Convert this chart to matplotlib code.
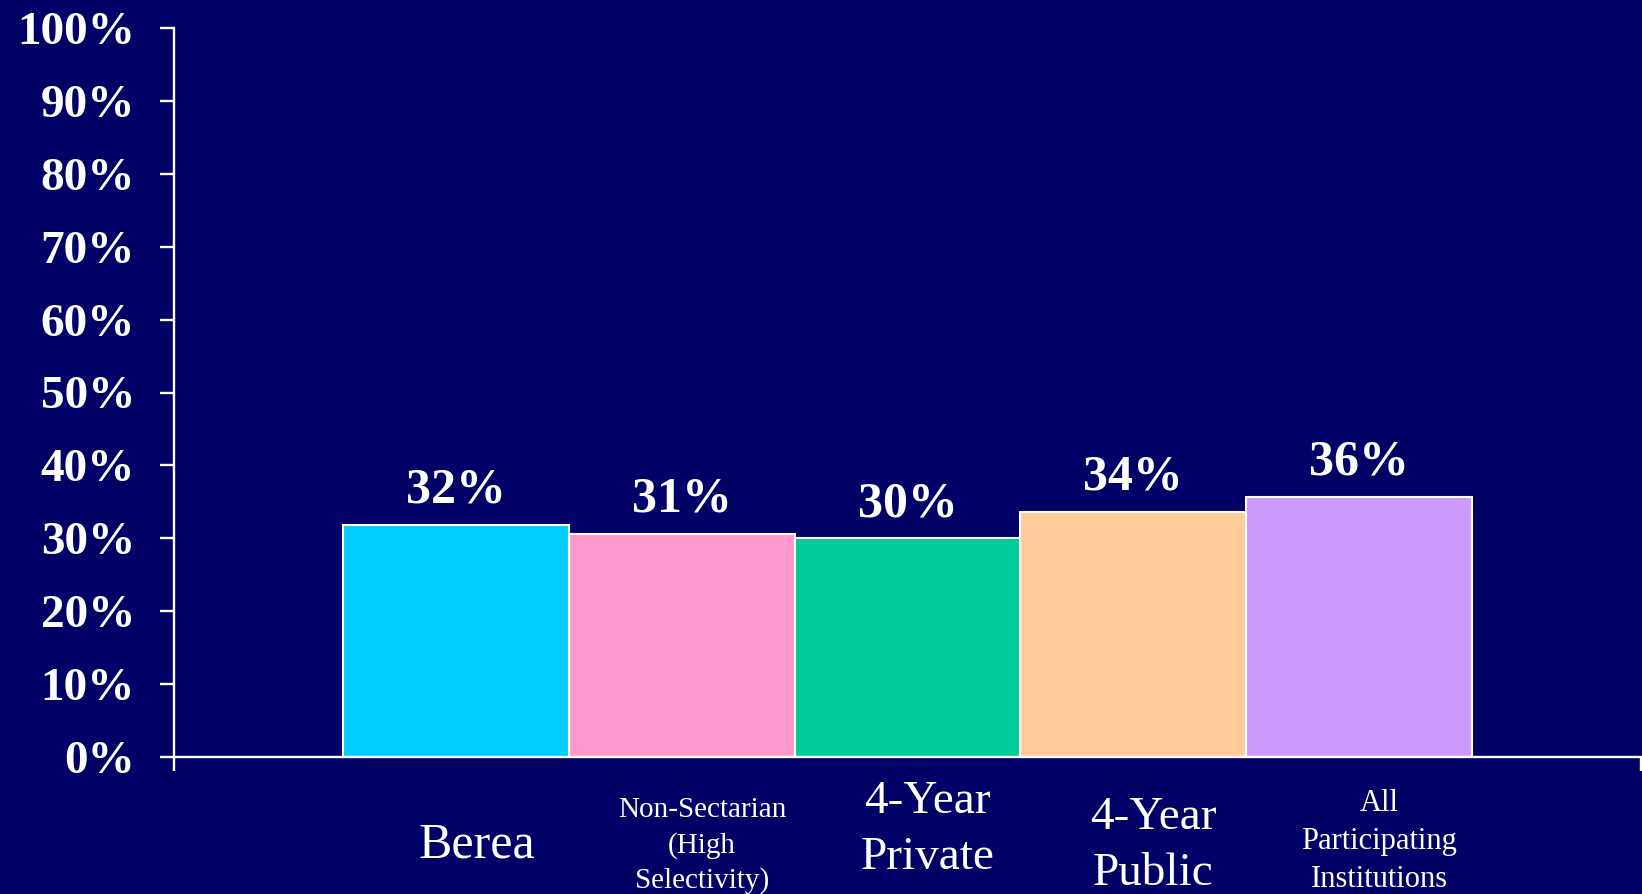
import matplotlib.pyplot as plt
import matplotlib.transforms as mtransforms

categories = ['Berea', 'Non-Sectarian\n(High\nSelectivity)', '4-Year\nPrivate',
              '4-Year\nPublic', 'All\nParticipating\nInstitutions']
values = [31.8, 30.6, 30.0, 33.6, 35.7]
value_labels = ['32%', '31%', '30%', '34%', '36%']
colors = ['#00CCFF', '#FF99CC', '#00CC99', '#FFCC99', '#CC99FF']
# label font sizes and last-line baselines (figure pixels from top), as in the slide
label_sizes = [36, 21, 34, 34, 22]
label_baselines = [857, 888, 869, 885, 887]
yticks = list(range(0, 101, 10))

bg = '#000066'
W, H = 1642, 894

fig = plt.figure(figsize=(W / 100, H / 100), dpi=100, facecolor=bg)
ax = fig.add_axes([174 / W, 1 - 757 / H, (1641 - 174) / W, (757 - 28) / H])
ax.set_facecolor(bg)

x = list(range(len(categories)))
ax.bar(x, values, width=1.0, color=colors, edgecolor='white', linewidth=1.5, zorder=2)

ax.set_xlim(-1.25, 5.25)
ax.set_ylim(0, 100)

for spine in ['top', 'right']:
    ax.spines[spine].set_visible(False)
for spine in ['left', 'bottom']:
    ax.spines[spine].set_color('white')
    ax.spines[spine].set_linewidth(1.7)
    ax.spines[spine].set_zorder(3)

ax.set_yticks(yticks)
ax.set_yticklabels([f'{t}%' for t in yticks], fontfamily='Liberation Serif',
                   fontweight='bold', fontsize=34, color='white')
ax.tick_params(axis='y', length=10, width=1.7, color='white', pad=18)
ax.set_xticks([-1.25, 5.25])
ax.set_xticklabels([])
ax.tick_params(axis='x', length=10, width=1.7, color='white')

for xi, v, lab in zip(x, values, value_labels):
    ax.annotate(lab, (xi, v), xytext=(0, 16), textcoords='offset points',
                ha='center', va='baseline', fontfamily='Liberation Serif',
                fontweight='bold', fontsize=36, color='white')

trans = mtransforms.blended_transform_factory(ax.transData, fig.transFigure)
for xi, cat, fs, yb in zip(x, categories, label_sizes, label_baselines):
    ax.text(xi + 0.09, 1 - yb / H, cat, transform=trans, ha='center', va='baseline',
            multialignment='center', linespacing=1.42, fontfamily='Liberation Serif',
            fontsize=fs, color='white', clip_on=False)

fig.savefig('out.png', dpi=100, facecolor=bg)
